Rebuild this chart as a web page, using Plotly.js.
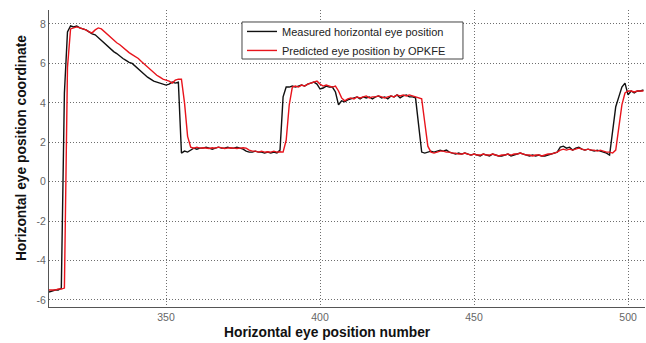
<!DOCTYPE html>
<html>
<head>
<meta charset="utf-8">
<script src="https://cdn.plot.ly/plotly-3.0.1.min.js"></script>
<style>
  html, body { margin: 0; padding: 0; background: #fff; }
  #chart { width: 646px; height: 343px; }
</style>
</head>
<body>
<div id="chart"></div>
<script>
// First sample number on the horizontal axis
const firstSample = 312;

// Measured horizontal eye position (samples 312..505)
const measured = [
  -5.6, -5.55, -5.5, -5.5, -5.4, 4.5, 7.6, 7.9, 7.85, 7.9,
  7.8, 7.75, 7.7, 7.6, 7.5, 7.45, 7.3, 7.2, 7.05, 6.9,
  6.75, 6.6, 6.5, 6.35, 6.25, 6.15, 6.05, 6.0, 5.85, 5.7,
  5.55, 5.4, 5.3, 5.2, 5.1, 5.05, 5.0, 4.95, 4.9, 4.95,
  5.05, 5.0, 5.05, 1.45, 1.55, 1.5, 1.6, 1.7, 1.65, 1.7,
  1.7, 1.75, 1.7, 1.65, 1.7, 1.75, 1.7, 1.7, 1.75, 1.7,
  1.7, 1.75, 1.7, 1.65, 1.55, 1.5, 1.5, 1.55, 1.5, 1.5,
  1.45, 1.5, 1.45, 1.5, 1.45, 1.6, 4.3, 4.8, 4.8, 4.85,
  4.8, 4.85, 4.9, 4.85, 4.95, 5.0, 5.05, 4.95, 4.7, 4.75,
  4.85, 4.8, 4.8, 4.55, 3.9, 4.1, 4.05, 4.15, 4.2, 4.25,
  4.3, 4.2, 4.3, 4.25, 4.3, 4.2, 4.3, 4.35, 4.25, 4.3,
  4.2, 4.35, 4.3, 4.4, 4.25, 4.35, 4.4, 4.3, 4.3, 4.25,
  2.8, 1.5, 1.45, 1.5, 1.55, 1.5, 1.55, 1.6, 1.55, 1.6,
  1.5, 1.45, 1.4, 1.45, 1.4, 1.45, 1.4, 1.35, 1.4, 1.35,
  1.3, 1.4, 1.35, 1.3, 1.4, 1.35, 1.3, 1.3, 1.35, 1.4,
  1.3, 1.35, 1.4, 1.45, 1.4, 1.35, 1.3, 1.35, 1.3, 1.35,
  1.3, 1.3, 1.35, 1.4, 1.45, 1.5, 1.75, 1.8, 1.7, 1.75,
  1.6, 1.7, 1.75, 1.65, 1.6, 1.65, 1.6, 1.55, 1.6, 1.55,
  1.5, 1.45, 1.35, 2.7, 3.8, 4.3, 4.8, 5.0, 4.4, 4.6,
  4.5, 4.6, 4.6, 4.65
];

// Predicted eye position by OPKFE (samples 312..505)
const predicted = [
  -5.5, -5.5, -5.5, -5.45, -5.45, -5.4, 5.8, 7.75, 7.8, 7.85,
  7.8, 7.75, 7.7, 7.6, 7.55, 7.7, 7.8, 7.75, 7.6, 7.45,
  7.3, 7.2, 7.05, 6.95, 6.8, 6.65, 6.55, 6.45, 6.35, 6.25,
  6.1, 5.95, 5.8, 5.65, 5.5, 5.4, 5.3, 5.2, 5.15, 5.1,
  5.0, 5.15, 5.2, 5.2, 4.0, 2.3, 1.75, 1.7, 1.75, 1.7,
  1.72, 1.7, 1.68, 1.72, 1.7, 1.75, 1.7, 1.68, 1.7, 1.72,
  1.7, 1.68, 1.7, 1.72, 1.7, 1.6, 1.55, 1.55, 1.5, 1.55,
  1.5, 1.52, 1.5, 1.55, 1.5, 1.52, 1.5, 2.1, 3.9, 4.8,
  4.85, 4.8, 4.9, 4.85, 4.95, 5.0, 5.05, 5.1, 4.95, 4.85,
  4.9, 4.85, 4.8, 4.85, 4.6, 4.25, 4.1, 4.2, 4.25, 4.2,
  4.3, 4.25, 4.3, 4.35, 4.25, 4.3, 4.3, 4.35, 4.3, 4.25,
  4.3, 4.35, 4.3, 4.4, 4.35, 4.4, 4.35, 4.4, 4.35, 4.3,
  4.25, 4.2, 3.0, 1.8, 1.5, 1.45, 1.5, 1.55, 1.55, 1.5,
  1.5, 1.45, 1.45, 1.4, 1.4, 1.45, 1.4, 1.35, 1.4, 1.35,
  1.35, 1.4, 1.35, 1.35, 1.4, 1.35, 1.3, 1.35, 1.35, 1.4,
  1.35, 1.4, 1.4, 1.45, 1.4, 1.35, 1.35, 1.3, 1.35, 1.35,
  1.3, 1.35, 1.4, 1.4, 1.45, 1.5, 1.6, 1.65, 1.6, 1.65,
  1.6, 1.65, 1.7, 1.65, 1.6, 1.65, 1.6, 1.6, 1.55, 1.6,
  1.55, 1.5, 1.5, 1.45, 1.6, 2.8, 3.9, 4.5, 4.6, 4.6,
  4.55, 4.6, 4.6, 4.6
];

const seriesNames = ["Measured horizontal eye position", "Predicted eye position by OPKFE"];
const xTicks = [350, 400, 450, 500];
const yTicks = [-6, -4, -2, 0, 2, 4, 6, 8];
const xTitle = "Horizontal eye position number";
const yTitle = "Horizontal eye position coordinate";

const samples = measured.map((_, i) => firstSample + i);

const traces = [
  { x: samples, y: measured, type: "scatter", mode: "lines", name: seriesNames[0],
    line: { color: "#111111", width: 1.4 } },
  { x: samples, y: predicted, type: "scatter", mode: "lines", name: seriesNames[1],
    line: { color: "#e8141c", width: 1.4 } }
];

const fontFam = "Liberation Sans, Arial, sans-serif";
const gridDash = "1px,2px";

const layout = {
  width: 646, height: 343,
  margin: { l: 49, r: 1, t: 10, b: 36, pad: 0 },
  paper_bgcolor: "#ffffff", plot_bgcolor: "#ffffff",
  font: { family: fontFam, size: 10, color: "#555555" },
  showlegend: true,
  legend: {
    x: 0.3238, y: 0.9766, xanchor: "left", yanchor: "top",
    bgcolor: "rgba(0,0,0,0)", borderwidth: 0,
    font: { family: fontFam, size: 11, color: "#222222" },
    tracegroupgap: 0
  },
  xaxis: {
    range: [312, 505.5],
    tickvals: xTicks, ticktext: xTicks.map(String),
    showgrid: true, gridcolor: "#6e6e6e", griddash: gridDash, gridwidth: 1,
    zeroline: false, showline: true, linecolor: "#555555", linewidth: 1,
    ticks: "", mirror: false,
    tickfont: { family: fontFam, size: 10.5, color: "#666666" }
  },
  yaxis: {
    range: [-6.36, 8.71],
    tickvals: yTicks, ticktext: yTicks.map(String),
    showgrid: true, gridcolor: "#6e6e6e", griddash: gridDash, gridwidth: 1,
    zeroline: false, showline: true, linecolor: "#555555", linewidth: 1,
    ticks: "", mirror: false,
    tickfont: { family: fontFam, size: 10.5, color: "#666666" }
  },
  shapes: [
    { type: "rect", xref: "paper", yref: "paper", layer: "above",
      x0: 0.3238, x1: 0.6946, y0: 0.835, y1: 0.9596,
      fillcolor: "#ffffff", line: { color: "#444444", width: 1 } }
  ],
  annotations: [
    { text: xTitle, xref: "paper", yref: "paper", x: 0.468, y: -0.0875,
      xanchor: "center", yanchor: "middle", showarrow: false,
      font: { family: fontFam, size: 13.8, color: "#111111", weight: "bold" } },
    { text: yTitle, xref: "paper", yref: "paper", x: -0.047, y: 0.535,
      xanchor: "center", yanchor: "middle", showarrow: false, textangle: -90,
      font: { family: fontFam, size: 13.8, color: "#111111", weight: "bold" } }
  ]
};

Plotly.newPlot("chart", traces, layout, { displayModeBar: false, staticPlot: true });
</script>
</body>
</html>
